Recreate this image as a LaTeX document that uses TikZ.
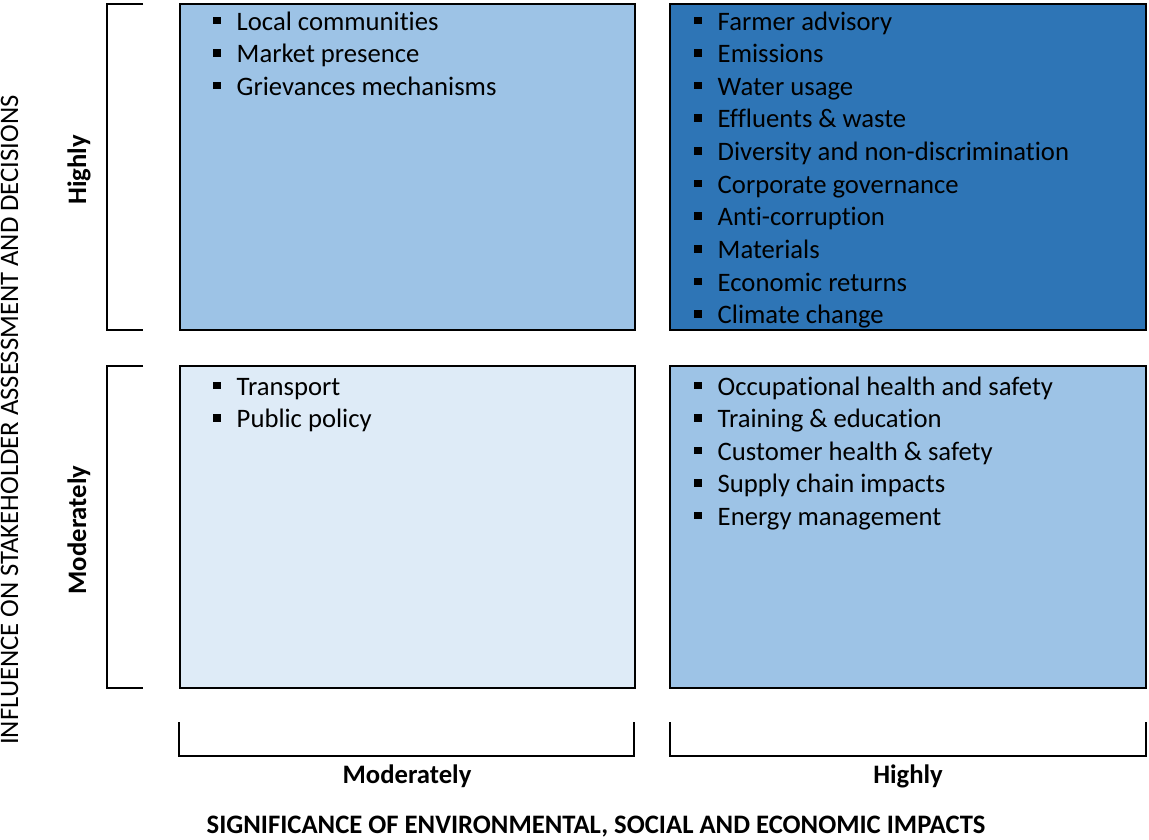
\documentclass[tikz,border=0pt]{standalone}
\usepackage{fontspec}
\setmainfont{Carlito}[Ligatures=NoCommon]
\definecolor{midblue}{HTML}{9DC3E6}
\definecolor{deepblue}{HTML}{2E75B6}
\definecolor{paleblue}{HTML}{DEEBF7}
\newcommand{\itemfont}{\fontsize{20}{24}\selectfont}
\newcommand{\blt}{\rule[4.5pt]{5.6pt}{5.6pt}\hspace{12pt}}

\begin{document}
\begin{tikzpicture}[
		x=0.75pt, y=-0.75pt,
		quad/.style={draw, line width=2.2pt},
		brk/.style={line width=1.1pt},
		item/.style={anchor=base west, inner sep=0pt, font=\itemfont},
		lab/.style={anchor=base, inner sep=0pt, font=\itemfont\bfseries},
		axis/.style={anchor=base, inner sep=0pt, font=\itemfont}
	]
	\useasboundingbox (0,0) rectangle (1149,839);
	% quadrants
	\draw[quad, fill=midblue] (180,4) rectangle (635,330);
	\draw[quad, fill=deepblue] (670,4) rectangle (1146,330);
	\draw[quad, fill=paleblue] (180,366) rectangle (635,688);
	\draw[quad, fill=midblue] (670,366) rectangle (1146,688);
	% items
	\foreach \t [count=\i] in {Local communities, Market presence, Grievances mechanisms}
		\node[item] (hl\i) at (213, {30+32.65*(\i-1)}) {\blt\t};
	\foreach \t [count=\i] in {Farmer advisory, Emissions, Water usage, Effluents \& waste,
			Diversity and non-discrimination, Corporate governance, Anti-corruption,
			Materials, Economic returns, Climate change}
		\node[item] (hh\i) at (694, {30+32.65*(\i-1)}) {\blt\t};
	\foreach \t [count=\i] in {Transport, Public policy}
		\node[item] (ml\i) at (213, {395+32.5*(\i-1)}) {\blt\t};
	\foreach \t [count=\i] in {Occupational health and safety, Training \& education,
			Customer health \& safety, Supply chain impacts, Energy management}
		\node[item] (mh\i) at (694, {395+32.5*(\i-1)}) {\blt\t};
	% brackets
	\draw[brk] (143,4) -- (107,4) -- (107,330) -- (143,330);
	\draw[brk] (143,366) -- (107,366) -- (107,688) -- (143,688);
	\draw[brk] (179,722) -- (179,756) -- (634,756) -- (634,722);
	\draw[brk] (670,722) -- (670,756) -- (1146,756) -- (1146,722);
	% axis labels
	\node[lab, rotate=90] (yhigh) at (86,170) {Highly};
	\node[lab, rotate=90] (ymod) at (86,530) {Moderately};
	\node[axis, rotate=90] (ytitle) at (18,420) {INFLUENCE ON STAKEHOLDER ASSESSMENT AND DECISIONS};
	\node[lab] (xmod) at (407,783) {Moderately};
	\node[lab] (xhigh) at (908,783) {Highly};
	\node[lab] (xtitle) at (596,833) {SIGNIFICANCE OF ENVIRONMENTAL, SOCIAL AND ECONOMIC IMPACTS};
\end{tikzpicture}
\end{document}
